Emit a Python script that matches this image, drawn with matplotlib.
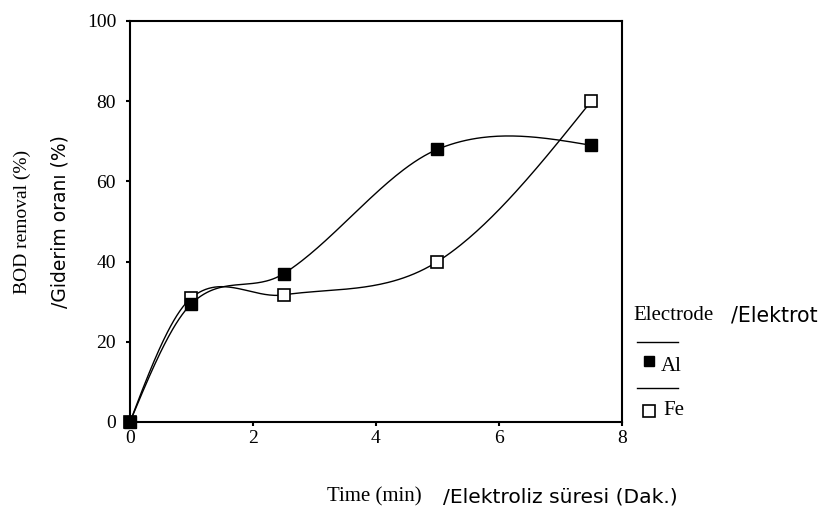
import numpy as np
import matplotlib
matplotlib.use("Agg")
import matplotlib.pyplot as plt

# Electrolysis time (min) and BOD removal (%) per electrode material
time_min = [0, 1, 2.5, 5, 7.5]
bod_al = [0, 29.5, 37, 68, 69]
bod_fe = [0, 31, 31.7, 40, 80]

x_ticks = [0, 2, 4, 6, 8]
y_ticks = [0, 20, 40, 60, 80, 100]


def smooth_curve(x, y, n=60):
    """Cubic Hermite curve: centred tangents inside, natural ends."""
    x = np.asarray(x, float)
    y = np.asarray(y, float)
    k = len(x)
    d = np.diff(y) / np.diff(x)
    m = np.zeros(k)
    for i in range(1, k - 1):
        m[i] = (y[i + 1] - y[i - 1]) / (x[i + 1] - x[i - 1])
    m[0] = (3 * d[0] - m[1]) / 2
    m[-1] = (3 * d[-1] - m[-2]) / 2
    xs_all, ys_all = [], []
    for i in range(k - 1):
        h = x[i + 1] - x[i]
        t = np.linspace(0, 1, n)
        h00 = 2 * t ** 3 - 3 * t ** 2 + 1
        h10 = t ** 3 - 2 * t ** 2 + t
        h01 = -2 * t ** 3 + 3 * t ** 2
        h11 = t ** 3 - t ** 2
        xs_all.append(x[i] + t * h)
        ys_all.append(h00 * y[i] + h10 * h * m[i] + h01 * y[i + 1] + h11 * h * m[i + 1])
    return np.concatenate(xs_all), np.concatenate(ys_all)


fig = plt.figure(figsize=(8.29, 5.12), dpi=100)
ax = fig.add_axes([0.1568, 0.1758, 0.5935, 0.7832])

serif = "Liberation Serif"
sans = "DejaVu Sans"

xs, ys = smooth_curve(time_min, bod_al)
ax.plot(xs, ys, color="black", lw=1.0, clip_on=False)
xs, ys = smooth_curve(time_min, bod_fe)
ax.plot(xs, ys, color="black", lw=1.0, clip_on=False)

ax.plot(time_min, bod_fe, ls="none", marker="s", ms=9, mfc="white",
        mec="black", mew=1.2, clip_on=False, zorder=3)
ax.plot(time_min, bod_al, ls="none", marker="s", ms=8, mfc="black",
        mec="black", clip_on=False, zorder=4)

ax.set_xlim(0, 8)
ax.set_ylim(0, 100)
ax.set_xticks(x_ticks)
ax.set_yticks(y_ticks)
ax.set_xticklabels([str(v) for v in x_ticks], fontfamily=serif, fontsize=14)
ax.set_yticklabels([str(v) for v in y_ticks], fontfamily=serif, fontsize=14)
ax.tick_params(direction="out", length=3, width=1.5)
ax.tick_params(axis="y", pad=7)
ax.tick_params(axis="x", pad=3)
for s in ax.spines.values():
    s.set_linewidth(1.5)

# axis titles, English part in serif and Turkish part in sans
fig.text(0.027, 0.566, "BOD removal (%)", rotation=90, ha="center",
         va="center", fontfamily=serif, fontsize=14)
fig.text(0.072, 0.568, "/Giderim oranı (%)", rotation=90, ha="center",
         va="center", fontfamily=sans, fontsize=13.5)
fig.text(0.394, 0.029, "Time (min)", ha="left", va="center",
         fontfamily=serif, fontsize=15)
fig.text(0.534, 0.029, "/Elektroliz süresi (Dak.)", ha="left", va="center",
         fontfamily=sans, fontsize=14.6)

# legend drawn by hand to the right of the axes
fig.text(0.764, 0.383, "Electrode", ha="left", va="center",
         fontfamily=serif, fontsize=15)
fig.text(0.882, 0.383, "/Elektrot", ha="left", va="center",
         fontfamily=sans, fontsize=14.8)
for yl in (0.332, 0.242):
    fig.add_artist(plt.Line2D([0.768, 0.818], [yl, yl], color="black", lw=1.0))
fig.add_artist(plt.Line2D([0.783], [0.295], ls="none", marker="s", ms=7,
                          mfc="black", mec="black"))
fig.text(0.797, 0.285, "Al", ha="left", va="center", fontfamily=serif,
         fontsize=15)
fig.add_artist(plt.Line2D([0.783], [0.197], ls="none", marker="s", ms=8,
                          mfc="white", mec="black", mew=1.2))
fig.text(0.800, 0.199, "Fe", ha="left", va="center", fontfamily=serif,
         fontsize=15)

fig.savefig("out.png", dpi=100)
